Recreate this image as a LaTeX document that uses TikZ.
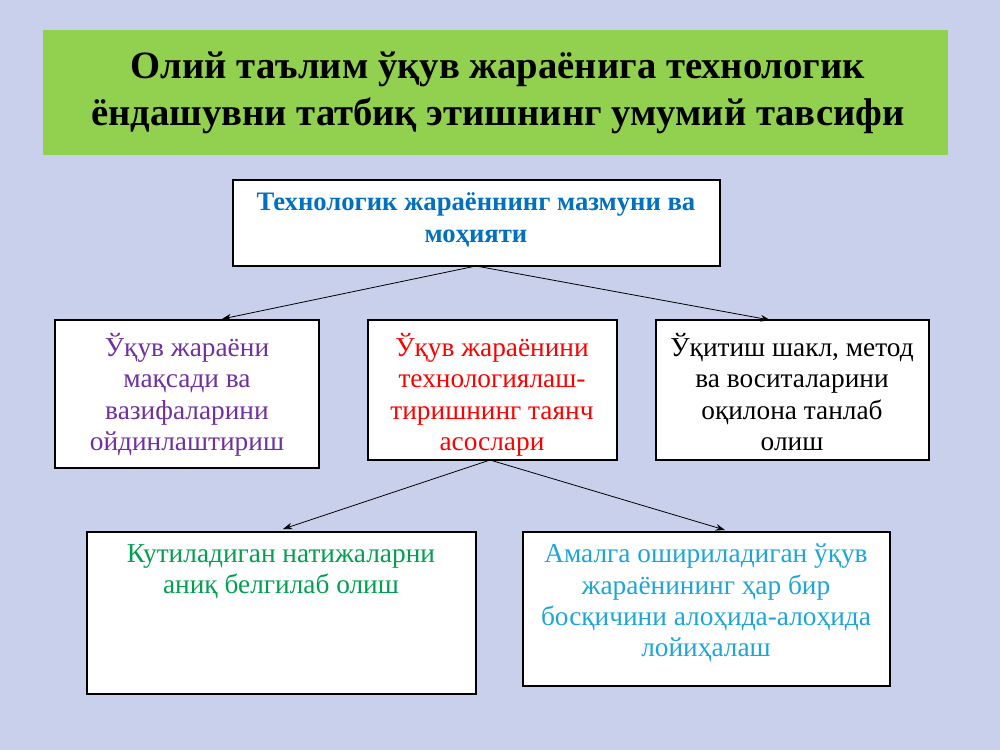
\documentclass[tikz,border=0pt]{standalone}
\usepackage{fontspec}
\setmainfont{Liberation Serif}
\usetikzlibrary{arrows.meta}
\definecolor{bg}{HTML}{C9D0EC}
\definecolor{tgreen}{HTML}{92D050}
\definecolor{tblue}{HTML}{0070C0}
\definecolor{tpurple}{HTML}{7030A0}
\definecolor{tgrn}{HTML}{00A050}
\definecolor{tcyan}{HTML}{1CA6D8}
\begin{document}
\begin{tikzpicture}[x=0.75pt,y=-0.75pt,
  box/.style={draw=black,fill=white,line width=0.8pt},
  txt/.style={anchor=north,align=center,font=\fontsize{20.5}{23.5}\selectfont,inner sep=0pt},
  arr/.style={-{Stealth[length=7pt,width=5pt]},line width=0.6pt}]
\fill[bg] (0,0) rectangle (1000,750);
\useasboundingbox (0,0) rectangle (1000,750);
\fill[tgreen] (43,30) rectangle (948,155);
\node[align=center,font=\bfseries\fontsize{29}{35}\selectfont] (title) at (498,93) {Олий таълим ўқув жараёнига технологик\\ёндашувни татбиқ этишнинг умумий тавсифи};
\draw[box,line width=2.2pt] (233,180) rectangle (720,266);
\node[txt,text=tblue,font=\bfseries\fontsize{20}{24}\selectfont] (top) at (476,192) {Технологик жараённинг мазмуни ва\\моҳияти};
\coordinate (topb) at (476,266);
\draw[box] (55,320) rectangle (319,468);
\node[txt,text=tpurple] (l) at (187,333) {Ўқув жараёни\\мақсади ва\\вазифаларини\\ойдинлаштириш};
\draw[box] (368,320) rectangle (617,460);
\node[txt,text=red] (m) at (492,333) {Ўқув жараёнини\\технологиялаш-\\тиришнинг таянч\\асослари};
\coordinate (mb) at (490,460);
\draw[box] (656,320) rectangle (929,460);
\node[txt] (r) at (792,333) {Ўқитиш шакл, метод\\ва воситаларини\\оқилона танлаб\\олиш};
\draw[box] (87,532) rectangle (476,694);
\node[txt,text=tgrn] (bl) at (281,544) {Кутиладиган натижаларни\\аниқ белгилаб олиш};
\draw[box] (523,532) rectangle (890,686);
\node[txt,text=tcyan] (br) at (706,544) {Амалга ошириладиган ўқув\\жараёнининг ҳар бир\\босқичини алоҳида-алоҳида\\лойиҳалаш};
\coordinate (la) at (222,319);
\coordinate (ra) at (770,320);
\coordinate (bla) at (283,529);
\coordinate (bra) at (725,530);
\draw[arr] (topb) -- (la);
\draw[arr] (topb) -- (ra);
\draw[arr] (mb) -- (bla);
\draw[arr] (mb) -- (bra);
\end{tikzpicture}
\end{document}
